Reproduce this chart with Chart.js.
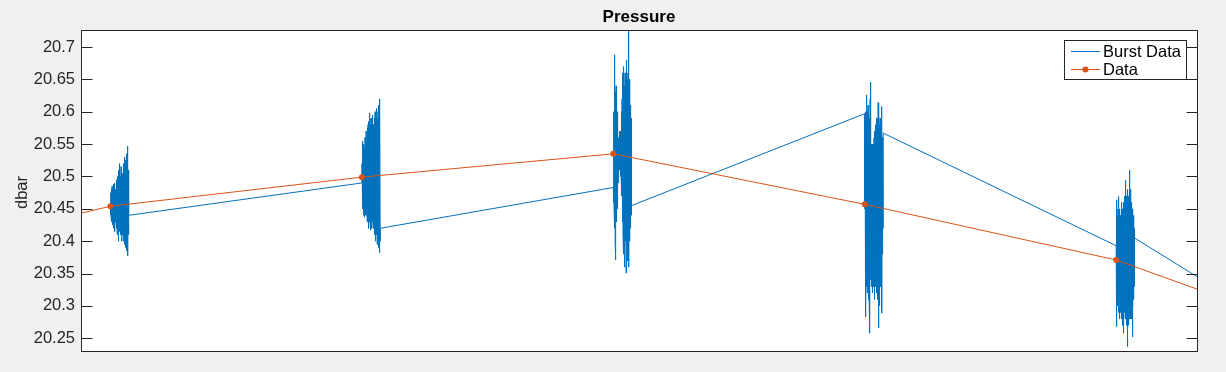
<!DOCTYPE html>
<html><head><meta charset="utf-8">
<script src="https://cdn.jsdelivr.net/npm/chart.js@4/dist/chart.umd.min.js"></script>
<style>html,body{margin:0;padding:0;background:#f0f0f0;}canvas{display:block;}</style>
</head><body>
<canvas id="c" width="1226" height="372"></canvas>
<script>
// ---- data ----
const dataTimes  = [-1, 0, 1, 2, 3, 4, 5];
const dataValues = [20.362, 20.454, 20.499, 20.535, 20.457, 20.371, 20.231];

const burstStarts = [0, 1, 2, 3, 4, 5];
const burstDuration = 0.0736;
const samplesPerBurst = 100;
const burst1 = [
  20.455, 20.47, 20.44, 20.475, 20.435, 20.48, 20.43, 20.465, 20.445, 20.485,
  20.425, 20.47, 20.44, 20.48, 20.435, 20.488, 20.42, 20.475, 20.44, 20.47,
  20.43, 20.485, 20.445, 20.49, 20.415, 20.47, 20.435, 20.48, 20.43, 20.475,
  20.44, 20.49, 20.42, 20.48,
  20.43, 20.495, 20.41, 20.48, 20.44, 20.50, 20.42, 20.485, 20.435, 20.51,
  20.40, 20.49, 20.43, 20.48, 20.415, 20.52, 20.42, 20.49, 20.44, 20.50,
  20.41, 20.485, 20.43, 20.515, 20.40, 20.49, 20.425, 20.50, 20.435, 20.48,
  20.41, 20.505, 20.42,
  20.49, 20.40, 20.51, 20.43, 20.52, 20.41, 20.50, 20.395, 20.53, 20.42,
  20.49, 20.40, 20.515, 20.43, 20.525, 20.39, 20.50, 20.41, 20.535, 20.42,
  20.51, 20.385, 20.52, 20.40, 20.50, 20.43, 20.547, 20.378, 20.51, 20.41,
  20.49, 20.42, 20.44];
const burst2 = [
  20.49, 20.52, 20.46, 20.54, 20.45, 20.555, 20.47, 20.53, 20.44, 20.55,
  20.46, 20.52, 20.45, 20.545, 20.437, 20.53, 20.46, 20.56, 20.45, 20.54,
  20.44, 20.55, 20.47, 20.57, 20.44, 20.55, 20.45, 20.56, 20.43, 20.575,
  20.46, 20.55, 20.44, 20.58,
  20.43, 20.56, 20.45, 20.585, 20.42, 20.57, 20.44, 20.598, 20.43, 20.56,
  20.45, 20.58, 20.417, 20.57, 20.44, 20.59, 20.43, 20.565, 20.45, 20.58,
  20.42, 20.59, 20.44, 20.57, 20.43, 20.595, 20.42, 20.56, 20.45, 20.58,
  20.43, 20.57, 20.42,
  20.59, 20.41, 20.57, 20.44, 20.60, 20.42, 20.58, 20.40, 20.59, 20.43,
  20.57, 20.41, 20.605, 20.42, 20.58, 20.395, 20.59, 20.43, 20.57, 20.40,
  20.60, 20.42, 20.58, 20.39, 20.61, 20.41, 20.59, 20.40, 20.62, 20.382,
  20.60, 20.40, 20.42];
const burst3 = [
  20.483, 20.56, 20.46, 20.60, 20.45, 20.62, 20.44, 20.688, 20.42, 20.61,
  20.40, 20.63, 20.371, 20.60, 20.44, 20.64, 20.43, 20.59, 20.46, 20.62,
  20.45, 20.58, 20.47, 20.60, 20.48, 20.57, 20.49, 20.56,
  20.50, 20.56, 20.51, 20.55, 20.52, 20.57, 20.51, 20.56, 20.52, 20.55,
  20.50, 20.57, 20.51, 20.56, 20.50, 20.58, 20.49,
  20.60, 20.47, 20.62, 20.45, 20.64, 20.43, 20.66, 20.41, 20.63, 20.38,
  20.65, 20.44, 20.67, 20.42, 20.62, 20.36, 20.64, 20.43, 20.66, 20.40,
  20.65, 20.44, 20.63, 20.351, 20.67, 20.42, 20.64, 20.39, 20.68, 20.43,
  20.65, 20.41, 20.62, 20.37, 20.66, 20.44, 20.74, 20.42, 20.64, 20.36,
  20.65, 20.43, 20.62, 20.40, 20.63, 20.44, 20.60, 20.42, 20.61, 20.45,
  20.59, 20.44, 20.58, 20.47, 20.455];
const burst4 = [
  20.597, 20.45, 20.59, 20.36, 20.60, 20.34, 20.283, 20.58, 20.33, 20.61,
  20.626, 20.35, 20.59, 20.32, 20.60, 20.34, 20.57, 20.36, 20.61, 20.31,
  20.58, 20.35, 20.60, 20.33, 20.59, 20.36, 20.57, 20.30, 20.258, 20.62,
  20.646, 20.34, 20.57, 20.36, 20.55, 20.33, 20.54, 20.37, 20.53, 20.35,
  20.55, 20.32, 20.52, 20.36, 20.54, 20.34, 20.53, 20.38, 20.55, 20.33,
  20.56, 20.35, 20.53, 20.31, 20.57, 20.36, 20.55, 20.34, 20.58, 20.33,
  20.57, 20.35, 20.59, 20.32, 20.58, 20.36, 20.57, 20.34, 20.59, 20.31,
  20.58, 20.35, 20.614, 20.266, 20.57, 20.33, 20.59, 20.36, 20.58, 20.30,
  20.57, 20.35, 20.59, 20.34, 20.58, 20.37, 20.56, 20.33, 20.58, 20.36,
  20.57, 20.608, 20.289, 20.56, 20.38, 20.55, 20.40, 20.54, 20.42, 20.567];
const burst5 = [
  20.393, 20.43, 20.464, 20.268, 20.42, 20.31, 20.44, 20.30, 20.43, 20.32,
  20.45, 20.469, 20.29, 20.42, 20.31, 20.44, 20.30, 20.43, 20.28, 20.45,
  20.32, 20.42, 20.29, 20.44, 20.31, 20.43, 20.30, 20.45, 20.28, 20.42,
  20.31, 20.46, 20.29, 20.43, 20.30, 20.45, 20.27, 20.44, 20.31, 20.42,
  20.258, 20.46, 20.30, 20.43, 20.29, 20.47, 20.31, 20.44, 20.28, 20.45,
  20.494, 20.29, 20.46, 20.31, 20.44, 20.27, 20.47, 20.30, 20.45, 20.237,
  20.46, 20.29, 20.48, 20.30, 20.45, 20.27, 20.47, 20.31, 20.44, 20.28,
  20.49, 20.510, 20.29, 20.46, 20.30, 20.48, 20.28, 20.45, 20.31, 20.47,
  20.29, 20.46, 20.30, 20.44, 20.28, 20.45, 20.252, 20.43, 20.31, 20.44,
  20.30, 20.42, 20.32, 20.44, 20.31, 20.43, 20.33, 20.42, 20.35, 20.405];
const burst6 = [20.182]; // first sample of the next burst (outside view)
const bursts = [burst1, burst2, burst3, burst4, burst5, burst6];

const yTickValues = [20.25, 20.3, 20.35, 20.4, 20.45, 20.5, 20.55, 20.6, 20.65, 20.7];
const xRange = [-0.117, 4.3215];
const yRange = [20.2304, 20.7263];

const titleText = 'Pressure';
const yLabelText = 'dbar';
const seriesNames = ['Burst Data', 'Data'];

// ---- build ----
const BLUE = '#0072BD', ORANGE = '#D95319', AX = '#262626';
const FONT = "'Liberation Sans', Arial, Helvetica, sans-serif";
const dtSample = burstDuration / (samplesPerBurst - 1);
const burstPoints = [];
bursts.forEach((b, k) => b.forEach((v, i) => burstPoints.push({x: burstStarts[k] + i * dtSample, y: v})));
const dataPoints = dataTimes.map((t, i) => ({x: t, y: dataValues[i]}));

const matlabPlugin = {
  id: 'matlab',
  beforeDraw(chart) {
    const {ctx, chartArea: a} = chart;
    ctx.save();
    ctx.fillStyle = '#ffffff';
    ctx.fillRect(a.left, a.top, a.right - a.left, a.bottom - a.top);
    ctx.restore();
  },
  afterDraw(chart) {
    const {ctx, chartArea: a} = chart;
    const ys = chart.scales.y;
    const L = Math.round(a.left) + 0.5, R = Math.round(a.right) + 0.5;
    const T = Math.round(a.top) + 0.5, B = Math.round(a.bottom) + 0.5;
    ctx.save();
    ctx.strokeStyle = AX; ctx.lineWidth = 1;
    ctx.strokeRect(L, T, R - L, B - T);
    ctx.beginPath();
    yTickValues.forEach(v => {
      const p = Math.round(ys.getPixelForValue(v)) + 0.5;
      ctx.moveTo(L, p); ctx.lineTo(L + 11, p);
      ctx.moveTo(R, p); ctx.lineTo(R - 11, p);
    });
    ctx.stroke();
    // title
    ctx.fillStyle = '#000';
    ctx.font = 'bold 17px ' + FONT;
    ctx.textAlign = 'center'; ctx.textBaseline = 'alphabetic';
    ctx.fillText(titleText, (a.left + a.right) / 2, 22);
    // y label
    ctx.save();
    ctx.fillStyle = AX;
    ctx.font = '16.5px ' + FONT;
    ctx.translate(26.5, (a.top + a.bottom) / 2 + 2);
    ctx.rotate(-Math.PI / 2);
    ctx.fillText(yLabelText, 0, 0);
    ctx.restore();
    // legend
    const lx = 1064.5, ly = 40.5, lw = 122, lh = 39;
    ctx.fillStyle = '#fff';
    ctx.fillRect(lx, ly, lw, lh);
    ctx.strokeStyle = AX;
    ctx.strokeRect(lx, ly, lw, lh);
    ctx.lineWidth = 1;
    ctx.strokeStyle = BLUE;
    ctx.beginPath(); ctx.moveTo(1071, 51.5); ctx.lineTo(1100, 51.5); ctx.stroke();
    ctx.strokeStyle = ORANGE;
    ctx.beginPath(); ctx.moveTo(1071, 69.5); ctx.lineTo(1100, 69.5); ctx.stroke();
    ctx.fillStyle = ORANGE;
    ctx.beginPath(); ctx.arc(1085.5, 69.5, 3, 0, Math.PI * 2); ctx.fill();
    ctx.fillStyle = '#000';
    ctx.font = '16.5px ' + FONT;
    ctx.textAlign = 'left';
    ctx.fillText(seriesNames[0], 1103, 57);
    ctx.fillText(seriesNames[1], 1103, 74.5);
    ctx.restore();
  }
};

new Chart(document.getElementById('c'), {
  type: 'line',
  data: {
    datasets: [
      {label: seriesNames[0], data: burstPoints, borderColor: BLUE, backgroundColor: BLUE,
       borderWidth: 1, pointRadius: 0, tension: 0, order: 1, fill: false},
      {label: seriesNames[1], data: dataPoints, borderColor: ORANGE, backgroundColor: ORANGE,
       borderWidth: 1, pointRadius: 3, pointBorderWidth: 0, pointHoverRadius: 3,
       tension: 0, order: 0, fill: false}
    ]
  },
  options: {
    responsive: false, animation: false, devicePixelRatio: 1,
    layout: {padding: {left: 0, top: 30, right: 29, bottom: 21}},
    plugins: {legend: {display: false}, title: {display: false}, tooltip: {enabled: false}},
    events: [],
    scales: {
      x: {type: 'linear', display: false, min: xRange[0], max: xRange[1]},
      y: {
        type: 'linear', min: yRange[0], max: yRange[1],
        grid: {display: false, drawTicks: false},
        border: {display: false},
        afterFit(s) { s.width = 81; },
        afterBuildTicks(s) { s.ticks = yTickValues.map(v => ({value: v})); },
        ticks: {
          color: AX, padding: 6,
          font: {family: FONT, size: 16.5},
          callback: v => String(parseFloat(Number(v).toFixed(2)))
        }
      }
    }
  },
  plugins: [matlabPlugin]
});
</script>
</body></html>
